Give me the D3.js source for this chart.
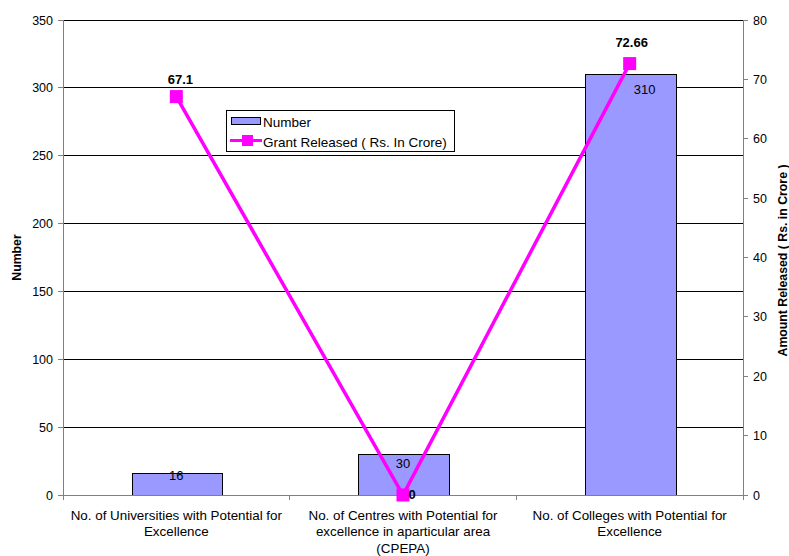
<!DOCTYPE html>
<html><head><meta charset="utf-8">
<script src="https://cdn.jsdelivr.net/npm/d3@7"></script>
<style>body{margin:0;background:#fff}text{font-family:"Liberation Sans",Arial,sans-serif}</style>
</head><body><svg id="c" width="789" height="556"></svg>
<script>
const categories = [
  ["No. of Universities with Potential for", "Excellence"],
  ["No. of Centres with Potential for", "excellence in aparticular area", "(CPEPA)"],
  ["No. of Colleges with Potential for", "Excellence"]
];
const numberValues = [16, 30, 310];
const grantValues = [67.1, 0, 72.66];
const leftTicks = [0, 50, 100, 150, 200, 250, 300, 350];
const rightTicks = [0, 10, 20, 30, 40, 50, 60, 70, 80];

const svg = d3.select("#c");
const L = 63, R = 743, T = 20, B = 495;
const x = d3.scaleBand().domain(d3.range(categories.length)).range([L, R]).paddingInner(0).paddingOuter(0);
const y = d3.scaleLinear().domain([0, 350]).range([B, T]);
const y2 = d3.scaleLinear().domain([0, 80]).range([B, T]);

// gridlines
svg.append("g").selectAll("line").data(leftTicks.slice(1)).join("line")
  .attr("x1", L).attr("x2", R).attr("y1", d => y(d)).attr("y2", d => y(d))
  .attr("stroke", "#000").attr("stroke-width", 1).attr("shape-rendering", "crispEdges");

// bars
const bw = x.bandwidth() / 2.5;
svg.append("g").selectAll("rect").data(numberValues).join("rect")
  .attr("x", (d, i) => x(i) + x.bandwidth() / 2 - bw / 2 + 1)
  .attr("y", d => y(d)).attr("width", bw).attr("height", d => B - y(d))
  .attr("fill", "#9999FF").attr("stroke", "#000").attr("stroke-width", 1).attr("shape-rendering", "crispEdges");

// axes
const ax = svg.append("g").attr("font-size", 12.5);
ax.append("line").attr("x1", L).attr("x2", L).attr("y1", T).attr("y2", B).attr("stroke", "#808080").attr("shape-rendering", "crispEdges");
ax.append("line").attr("x1", R).attr("x2", R).attr("y1", T).attr("y2", B).attr("stroke", "#808080").attr("shape-rendering", "crispEdges");
ax.append("line").attr("x1", L).attr("x2", R).attr("y1", B).attr("y2", B).attr("stroke", "#808080").attr("shape-rendering", "crispEdges");
leftTicks.forEach(t => {
  ax.append("line").attr("x1", L - 5).attr("x2", L).attr("y1", y(t)).attr("y2", y(t)).attr("stroke", "#808080").attr("shape-rendering", "crispEdges");
  ax.append("text").attr("x", L - 10).attr("y", y(t) + 4.5).attr("text-anchor", "end").text(t);
});
rightTicks.forEach(t => {
  ax.append("line").attr("x1", R).attr("x2", R + 5).attr("y1", y2(t)).attr("y2", y2(t)).attr("stroke", "#808080").attr("shape-rendering", "crispEdges");
  ax.append("text").attr("x", R + 10).attr("y", y2(t) + 4.5).attr("text-anchor", "start").text(t);
});
d3.range(categories.length + 1).forEach(i => {
  const xx = i < categories.length ? x(i) : R;
  ax.append("line").attr("x1", xx).attr("x2", xx).attr("y1", B).attr("y2", B + 5).attr("stroke", "#808080").attr("shape-rendering", "crispEdges");
});
categories.forEach((lines, i) => {
  const t = ax.append("text").attr("text-anchor", "middle").attr("font-size", 13.4);
  lines.forEach((ln, j) => t.append("tspan").attr("x", x(i) + x.bandwidth() / 2).attr("y", 519.5 + j * 16.5).text(ln));
});

// axis titles
svg.append("text").attr("transform", `translate(21,${(T + B) / 2}) rotate(-90)`).attr("text-anchor", "middle")
  .attr("font-size", 12.3).attr("font-weight", "bold").text("Number");
svg.append("text").attr("transform", `translate(787,${(T + B) / 2 + 3}) rotate(-90)`).attr("text-anchor", "middle")
  .attr("font-size", 12.3).attr("font-weight", "bold").text("Amount Released ( Rs. in Crore )");

// bar labels
const barLabelDx = [0, 0, 15];
const barLabelDy = [7, 14, 20];
svg.append("g").selectAll("text").data(numberValues).join("text")
  .attr("x", (d, i) => x(i) + x.bandwidth() / 2 + barLabelDx[i]).attr("y", (d, i) => y(d) + barLabelDy[i])
  .attr("text-anchor", "middle").attr("font-size", 13).attr("fill", "#000").text(d => d);

// line
const cx = i => x(i) + x.bandwidth() / 2;
svg.append("path").datum(grantValues)
  .attr("d", d3.line().x((d, i) => cx(i)).y(d => y2(d)))
  .attr("fill", "none").attr("stroke", "#FF00FF").attr("stroke-width", 3.5);
svg.append("g").selectAll("rect").data(grantValues).join("rect")
  .attr("x", (d, i) => cx(i) - 6.5).attr("y", d => y2(d) - 6.5).attr("width", 13).attr("height", 13)
  .attr("fill", "#FF00FF");
const lineLabelDx = [4, 9, 2];
const lineLabelDy = [-13, 4, -17];
svg.append("g").selectAll("text").data(grantValues).join("text")
  .attr("x", (d, i) => cx(i) + lineLabelDx[i]).attr("y", (d, i) => y2(d) + lineLabelDy[i])
  .attr("text-anchor", "middle").attr("font-size", 13).attr("font-weight", "bold").text(d => d);

// legend
const lg = svg.append("g");
lg.append("rect").attr("x", 226.5).attr("y", 110.5).attr("width", 228).attr("height", 41)
  .attr("fill", "#fff").attr("stroke", "#000").attr("stroke-width", 1);
lg.append("rect").attr("x", 231.5).attr("y", 117.5).attr("width", 29).attr("height", 7)
  .attr("fill", "#9999FF").attr("stroke", "#000");
lg.append("text").attr("x", 263).attr("y", 127).attr("font-size", 13.5).text("Number");
lg.append("line").attr("x1", 230).attr("x2", 262).attr("y1", 140.5).attr("y2", 140.5).attr("stroke", "#FF00FF").attr("stroke-width", 3);
lg.append("rect").attr("x", 242).attr("y", 135).attr("width", 11).attr("height", 11).attr("fill", "#FF00FF");
lg.append("text").attr("x", 263).attr("y", 146.5).attr("font-size", 13.5).text("Grant Released ( Rs. In Crore)");
</script></body></html>
